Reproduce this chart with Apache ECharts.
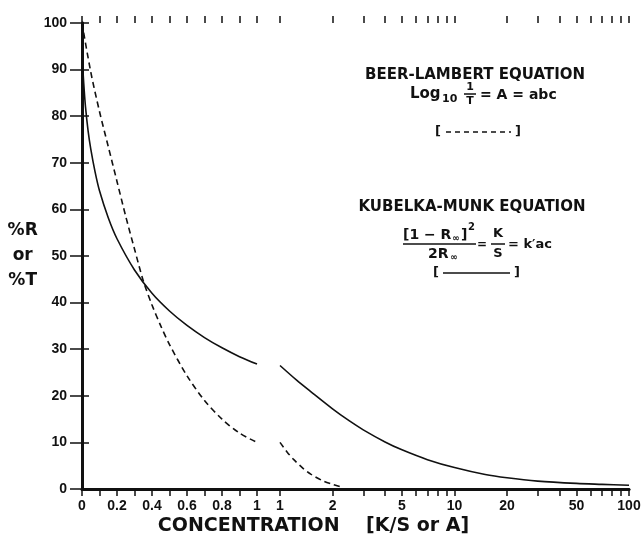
<!DOCTYPE html>
<html>
<head>
<meta charset="utf-8">
<script src="https://cdn.jsdelivr.net/npm/echarts@6/dist/echarts.min.js"></script>
<style>html,body{margin:0;padding:0;background:#fff}#c{width:642px;height:539px}</style>
</head>
<body>
<div id="c"></div>
<script>
// ---- data ----
const yTicks = [0, 10, 20, 30, 40, 50, 60, 70, 80, 90, 100];
const linLabels = ['0', '0.2', '0.4', '0.6', '0.8', '1'];
const logTickValues = [1, 2, 3, 4, 5, 6, 7, 8, 9, 10, 20, 30, 40, 50, 60, 70, 80, 90, 100];
const logLabelValues = [1, 2, 5, 10, 20, 50, 100];

// Kubelka-Munk (%R), linear part 0..1
const kmLinX = [0, 0.005, 0.01, 0.02, 0.035, 0.05, 0.075, 0.1, 0.15, 0.2, 0.3, 0.4, 0.5, 0.6, 0.7, 0.8, 0.9, 1.0];
const kmLinY = [100, 90.5, 87, 82, 76.8, 73, 68, 64, 58.2, 53.7, 47, 42, 38.2, 35.1, 32.5, 30.3, 28.4, 26.8];
// Beer-Lambert (%T), linear part 0..1
const blLinX = [0, 0.05, 0.1, 0.15, 0.2, 0.25, 0.3, 0.35, 0.4, 0.45, 0.5, 0.6, 0.7, 0.8, 0.9, 1.0];
const blLinY = [100, 89.5, 81, 73.5, 66, 58.5, 51.5, 44.7, 39.5, 35, 31, 24.3, 19, 15, 12, 10];
// Kubelka-Munk, log part 1..100
const kmLogX = [1, 1.25, 1.5, 2, 2.5, 3, 4, 5, 7, 10, 15, 20, 30, 50, 70, 100];
const kmLogY = [26.5, 23.3, 20.9, 17.2, 14.6, 12.7, 10.1, 8.4, 6.3, 4.6, 3.1, 2.4, 1.7, 1.2, 1.0, 0.8];
// Beer-Lambert, log part 1..~2.3
const blLogX = [1, 1.1, 1.2, 1.35, 1.5, 1.75, 2, 2.3];
const blLogY = [10, 7.9, 6.3, 4.5, 3.2, 1.8, 1.0, 0.3];

const pairs = (xs, ys) => xs.map((x, i) => [x, ys[i]]);

const BOLD = 'DejaVu Sans';
const LAB = 'Liberation Sans';
const black = '#111';

const chart = echarts.init(document.getElementById('c'), null, { renderer: 'canvas' });

const tickStyle = { color: black, width: 1.5 };
const hiddenY = (gi) => ({ gridIndex: gi, type: 'value', min: 0, max: 100, show: false });

const lineSeries = (xi, yi, data, dashed) => ({
  type: 'line', xAxisIndex: xi, yAxisIndex: yi, data: data,
  showSymbol: false, symbol: 'none', smooth: 0.3,
  lineStyle: { color: black, width: 1.6, type: dashed ? [6, 4] : 'solid' },
  z: 3
});

const gridBase = { top: 23, bottom: 50, outerBoundsMode: 'none', containLabel: false };

const option = {
  backgroundColor: '#fff',
  animation: false,
  grid: [
    Object.assign({ left: 82, right: 13 }, gridBase),
    Object.assign({ left: 82, width: 175 }, gridBase),
    Object.assign({ left: 280, right: 13 }, gridBase)
  ],
  xAxis: [
    // frame
    { gridIndex: 0, type: 'value', min: 0, max: 1, position: 'bottom',
      axisLine: { show: true, lineStyle: { color: black, width: 3 } },
      axisTick: { show: false }, axisLabel: { show: false }, splitLine: { show: false },
      name: 'CONCENTRATION    [K/S or A]', nameLocation: 'middle', nameGap: 28,
      nameTextStyle: { fontFamily: BOLD, fontWeight: 'bold', fontSize: 19, color: black, padding: [0, 84, 0, 0] } },
    { gridIndex: 0, type: 'value', min: 0, max: 1, position: 'top',
      axisLine: { show: true, lineStyle: { color: black, width: 2.5 } },
      axisTick: { show: false }, axisLabel: { show: false }, splitLine: { show: false } },
    // linear part 0..1
    { gridIndex: 1, type: 'value', min: 0, max: 1, interval: 0.1, position: 'bottom',
      axisLine: { show: false }, splitLine: { show: false },
      axisTick: { show: true, inside: false, length: 7, lineStyle: tickStyle },
      axisLabel: { show: true, margin: 10, color: black, fontFamily: LAB, fontWeight: 'bold', fontSize: 14,
        showMinLabel: true, showMaxLabel: true,
        formatter: (v) => { const k = Math.round(v * 10); return k % 2 ? '' : linLabels[k / 2]; } } },
    { gridIndex: 1, type: 'value', min: 0, max: 1, interval: 0.1, position: 'top',
      axisLine: { show: false }, splitLine: { show: false },
      axisTick: { show: true, inside: false, length: 7, lineStyle: tickStyle },
      axisLabel: { show: false } },
    // log part 1..100
    { gridIndex: 2, type: 'log', logBase: 10, min: 1, max: 100, position: 'bottom',
      axisLine: { show: false }, splitLine: { show: false },
      axisTick: { show: true, inside: false, length: 7, lineStyle: tickStyle, customValues: logTickValues },
      axisLabel: { show: true, margin: 10, color: black, fontFamily: LAB, fontWeight: 'bold', fontSize: 14,
        customValues: logLabelValues, formatter: (v) => String(Math.round(v)) } },
    { gridIndex: 2, type: 'log', logBase: 10, min: 1, max: 100, position: 'top',
      axisLine: { show: false }, splitLine: { show: false },
      axisTick: { show: true, inside: false, length: 7, lineStyle: tickStyle, customValues: logTickValues },
      axisLabel: { show: false } }
  ],
  yAxis: [
    { gridIndex: 0, type: 'value', min: 0, max: 100, interval: 10, position: 'left',
      axisLine: { show: true, lineStyle: { color: black, width: 3 } },
      axisTick: { show: true, length: 12, lineStyle: tickStyle },
      axisLabel: { color: black, fontFamily: LAB, fontWeight: 'bold', fontSize: 14, margin: 15,
        formatter: (v) => String(v) },
      splitLine: { show: false },
      name: '%R\nor\n%T', nameLocation: 'middle', nameGap: 59, nameRotate: 0,
      nameTextStyle: { fontFamily: BOLD, fontWeight: 'bold', fontSize: 17, color: black,
        align: 'center', verticalAlign: 'middle', lineHeight: 25, padding: [4, 0, 0, 0] } },
    { gridIndex: 0, type: 'value', min: 0, max: 100, interval: 10, position: 'right',
      axisLine: { show: true, lineStyle: { color: black, width: 3 } },
      axisTick: { show: true, length: 7, lineStyle: tickStyle },
      axisLabel: { show: false }, splitLine: { show: false } },
    hiddenY(1),
    hiddenY(2)
  ],
  series: [
    lineSeries(2, 2, pairs(kmLinX, kmLinY), false),
    lineSeries(2, 2, pairs(blLinX, blLinY), true),
    lineSeries(4, 3, pairs(kmLogX, kmLogY), false),
    lineSeries(4, 3, pairs(blLogX, blLogY), true)
  ],
  graphic: [
    // Beer-Lambert block
    { type: 'text', x: 475, y: 75, style: { text: 'BEER-LAMBERT EQUATION', font: 'bold 15px "DejaVu Sans"', fill: black, align: 'center', verticalAlign: 'middle' } },
    { type: 'text', x: 410, y: 94, style: { text: 'Log', font: 'bold 15px "DejaVu Sans"', fill: black, align: 'left', verticalAlign: 'middle' } },
    { type: 'text', x: 442, y: 99, style: { text: '10', font: 'bold 11px "DejaVu Sans"', fill: black, align: 'left', verticalAlign: 'middle' } },
    { type: 'text', x: 470, y: 87, style: { text: '1', font: 'bold 11px "DejaVu Sans"', fill: black, align: 'center', verticalAlign: 'middle' } },
    { type: 'line', shape: { x1: 464, y1: 94, x2: 476, y2: 94 }, style: { stroke: black, lineWidth: 1.5 } },
    { type: 'text', x: 470, y: 101, style: { text: 'T', font: 'bold 11px "DejaVu Sans"', fill: black, align: 'center', verticalAlign: 'middle' } },
    { type: 'text', x: 480, y: 95, style: { text: '= A = abc', font: 'bold 14px "DejaVu Sans"', fill: black, align: 'left', verticalAlign: 'middle' } },
    { type: 'text', x: 438, y: 132, style: { text: '[', font: 'bold 13px "DejaVu Sans"', fill: black, align: 'center', verticalAlign: 'middle' } },
    { type: 'line', shape: { x1: 446, y1: 132, x2: 511, y2: 132 }, style: { stroke: black, lineWidth: 1.5, lineDash: [5, 4] } },
    { type: 'text', x: 518, y: 132, style: { text: ']', font: 'bold 13px "DejaVu Sans"', fill: black, align: 'center', verticalAlign: 'middle' } },
    // Kubelka-Munk block
    { type: 'text', x: 472, y: 207, style: { text: 'KUBELKA-MUNK EQUATION', font: 'bold 15px "DejaVu Sans"', fill: black, align: 'center', verticalAlign: 'middle' } },
    { type: 'text', x: 403, y: 235, style: { text: '[1 − R', font: 'bold 14px "DejaVu Sans"', fill: black, align: 'left', verticalAlign: 'middle' } },
    { type: 'text', x: 452, y: 239, style: { text: '∞', font: 'bold 9px "DejaVu Sans"', fill: black, align: 'left', verticalAlign: 'middle' } },
    { type: 'text', x: 461, y: 235, style: { text: ']', font: 'bold 14px "DejaVu Sans"', fill: black, align: 'left', verticalAlign: 'middle' } },
    { type: 'text', x: 468, y: 227, style: { text: '2', font: 'bold 10px "DejaVu Sans"', fill: black, align: 'left', verticalAlign: 'middle' } },
    { type: 'line', shape: { x1: 403, y1: 244, x2: 476, y2: 244 }, style: { stroke: black, lineWidth: 1.5 } },
    { type: 'text', x: 428, y: 254, style: { text: '2R', font: 'bold 14px "DejaVu Sans"', fill: black, align: 'left', verticalAlign: 'middle' } },
    { type: 'text', x: 450, y: 258, style: { text: '∞', font: 'bold 9px "DejaVu Sans"', fill: black, align: 'left', verticalAlign: 'middle' } },
    { type: 'text', x: 482, y: 245, style: { text: '=', font: 'bold 12px "DejaVu Sans"', fill: black, align: 'center', verticalAlign: 'middle' } },
    { type: 'text', x: 498, y: 234, style: { text: 'K', font: 'bold 13px "DejaVu Sans"', fill: black, align: 'center', verticalAlign: 'middle' } },
    { type: 'line', shape: { x1: 491, y1: 244, x2: 505, y2: 244 }, style: { stroke: black, lineWidth: 1.5 } },
    { type: 'text', x: 498, y: 254, style: { text: 'S', font: 'bold 13px "DejaVu Sans"', fill: black, align: 'center', verticalAlign: 'middle' } },
    { type: 'text', x: 508, y: 245, style: { text: "= k′ac", font: 'bold 13px "DejaVu Sans"', fill: black, align: 'left', verticalAlign: 'middle' } },
    { type: 'text', x: 436, y: 273, style: { text: '[', font: 'bold 13px "DejaVu Sans"', fill: black, align: 'center', verticalAlign: 'middle' } },
    { type: 'line', shape: { x1: 443, y1: 273, x2: 510, y2: 273 }, style: { stroke: black, lineWidth: 1.5 } },
    { type: 'text', x: 517, y: 273, style: { text: ']', font: 'bold 13px "DejaVu Sans"', fill: black, align: 'center', verticalAlign: 'middle' } }
  ]
};
chart.setOption(option);
</script>
</body>
</html>
